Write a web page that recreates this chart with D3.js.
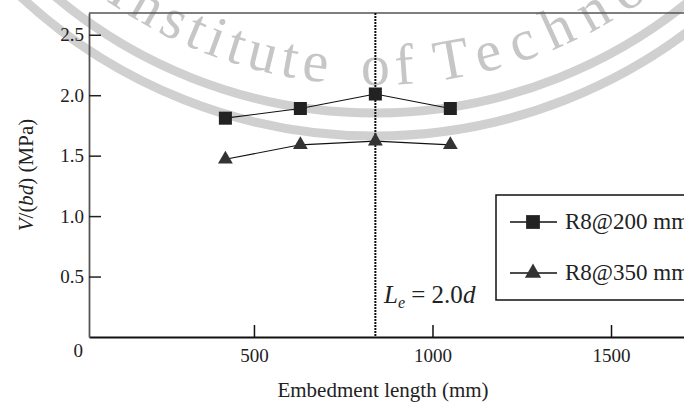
<!DOCTYPE html>
<html>
<head>
<meta charset="utf-8">
<script src="https://cdn.jsdelivr.net/npm/d3@7"></script>
<style>
  body { margin: 0; background: #fff; }
  svg { display: block; }
  text { font-family: "Liberation Serif", "Times New Roman", serif; }
</style>
</head>
<body>
<div id="chart-area"></div>
<script>
// data
var lengths = [420, 630, 840, 1050];
var r8at200 = [1.81, 1.89, 2.01, 1.89];
var r8at350 = [1.47, 1.59, 1.62, 1.59];
var seriesNames = ["R8@200 mm", "R8@350 mm"];
var xTicks = [500, 1000, 1500];
var yTicks = [0, 0.5, 1.0, 1.5, 2.0, 2.5];
var criticalLength = 840;

var W = 684, H = 403;
var svg = d3.select("#chart-area")
  .append("svg")
  .attr("width", W)
  .attr("height", H);

var plotLeft = 89, plotTop = 13, plotBottom = 337;

var x = d3.scaleLinear()
  .domain([38, 1710])
  .range([plotLeft, 686]);

var y = d3.scaleLinear()
  .domain([0, 2.68])
  .range([plotBottom, plotTop]);

// watermark (grey seal arcs + text)
var wm = svg.append("g").attr("class", "watermark");
var cx = 375, cy = -384;
[497, 520].forEach(r => {
  wm.append("circle")
    .attr("cx", cx).attr("cy", cy).attr("r", r)
    .attr("fill", "none")
    .attr("stroke", "#d0d0d0")
    .attr("stroke-width", 9);
});

var rText = 469, a0 = 1.2;
var p = d3.path();
p.arc(cx, cy, rText, Math.PI / 2 + a0, Math.PI / 2 - a0, true);
wm.append("path")
  .attr("id", "wmArc")
  .attr("d", p.toString())
  .attr("fill", "none");

function arcOffset(px) {
  return rText * (Math.asin((px - cx) / rText) + a0);
}

var wmWords = [
  { t: "Institute", at: 332, anchor: "end", ls: 6 },
  { t: "of", at: 391, anchor: "middle", ls: 6 },
  { t: "Technology", at: 437, anchor: "start", ls: 12 }
];
wmWords.forEach(w => {
  wm.append("text")
    .attr("font-size", "58px")
    .attr("letter-spacing", w.ls + "px")
    .attr("fill", "#c6c6c6")
    .append("textPath")
    .attr("href", "#wmArc")
    .attr("startOffset", arcOffset(w.at))
    .attr("text-anchor", w.anchor)
    .text(w.t);
});

// frame top line
svg.append("line")
  .attr("x1", plotLeft).attr("x2", W + 5)
  .attr("y1", plotTop).attr("y2", plotTop)
  .attr("stroke", "#555")
  .attr("stroke-width", 1.6);

// axes
var xAxisCall = d3.axisBottom(x)
  .tickValues(xTicks)
  .tickSizeInner(-12)
  .tickSizeOuter(0)
  .tickPadding(12)
  .tickFormat(d3.format("d"));
var xAxis = svg.append("g")
  .attr("class", "x axis")
  .attr("transform", "translate(0," + plotBottom + ")")
  .call(xAxisCall);
xAxis.select(".domain").attr("stroke", "#111").attr("stroke-width", 2);
xAxis.selectAll(".tick line").attr("stroke", "#111").attr("stroke-width", 1.5);
xAxis.selectAll("text")
  .attr("font-size", "19px")
  .attr("font-family", "Liberation Serif")
  .attr("fill", "#222");

var yAxisCall = d3.axisLeft(y)
  .tickValues(yTicks)
  .tickSizeInner(-12)
  .tickSizeOuter(0)
  .tickPadding(5)
  .tickFormat(d => d === 0 ? "0" : d3.format(".1f")(d));
var yAxis = svg.append("g")
  .attr("class", "y axis")
  .attr("transform", "translate(" + plotLeft + ",0)")
  .call(yAxisCall);
yAxis.select(".domain").attr("stroke", "#555").attr("stroke-width", 1.8);
yAxis.selectAll(".tick line").attr("stroke", "#222").attr("stroke-width", 1.5);
yAxis.selectAll(".tick").filter(d => d === 0).select("line").remove();
yAxis.selectAll("text")
  .attr("font-size", "19px")
  .attr("font-family", "Liberation Serif")
  .attr("fill", "#222");
yAxis.selectAll(".tick").filter(d => d === 0).select("text")
  .attr("dy", "1.0em")
  .attr("x", -6);

// critical length line
svg.append("line")
  .attr("x1", x(criticalLength)).attr("x2", x(criticalLength))
  .attr("y1", plotTop).attr("y2", plotBottom)
  .attr("stroke", "#111")
  .attr("stroke-width", 2)
  .attr("stroke-dasharray", "2,1");

// series
var series = [
  { name: seriesNames[0], values: r8at200, symbol: d3.symbolSquare, size: 170, fill: "#222" },
  { name: seriesNames[1], values: r8at350, symbol: d3.symbolTriangle, size: 95, fill: "#333" }
];

var line = d3.line()
  .x(d => x(d[0]))
  .y(d => y(d[1]));

series.forEach(s => {
  var pts = lengths.map((l, i) => [l, s.values[i]]);
  svg.append("path")
    .attr("d", line(pts))
    .attr("fill", "none")
    .attr("stroke", "#111")
    .attr("stroke-width", 1.2);
  svg.selectAll(null)
    .data(pts)
    .enter()
    .append("path")
    .attr("d", d3.symbol().type(s.symbol).size(s.size))
    .attr("transform", d => "translate(" + x(d[0]) + "," + y(d[1]) + ")")
    .attr("fill", s.fill);
});

// legend
var legend = svg.append("g").attr("class", "legend");
legend.append("rect")
  .attr("x", 496).attr("y", 195)
  .attr("width", 230).attr("height", 105)
  .attr("fill", "#fff")
  .attr("stroke", "#111")
  .attr("stroke-width", 1.5);
series.forEach((s, i) => {
  var ly = 222 + i * 51;
  legend.append("line")
    .attr("x1", 510).attr("x2", 557)
    .attr("y1", ly).attr("y2", ly)
    .attr("stroke", "#111")
    .attr("stroke-width", 1.3);
  legend.append("path")
    .attr("d", d3.symbol().type(s.symbol).size(s.size + 20))
    .attr("transform", "translate(533," + ly + ")")
    .attr("fill", s.fill);
  legend.append("text")
    .attr("x", 565)
    .attr("y", ly + 7)
    .attr("font-size", "23px")
    .attr("fill", "#222")
    .text(s.name);
});

// annotation
var ann = svg.append("text")
  .attr("x", 384)
  .attr("y", 303)
  .attr("font-size", "25px")
  .attr("fill", "#222");
ann.append("tspan").attr("font-style", "italic").text("L");
ann.append("tspan").attr("font-style", "italic").attr("font-size", "16px").attr("dy", 5).text("e");
ann.append("tspan").attr("dy", -5).text(" = 2.0");
ann.append("tspan").attr("font-style", "italic").text("d");

// axis labels
svg.append("text")
  .attr("x", 383)
  .attr("y", 397)
  .attr("font-size", "21px")
  .attr("text-anchor", "middle")
  .attr("fill", "#222")
  .text("Embedment length (mm)");

var yl = svg.append("text")
  .attr("transform", "translate(33,175) rotate(-90)")
  .attr("font-size", "21px")
  .attr("text-anchor", "middle")
  .attr("fill", "#222");
yl.append("tspan").attr("font-style", "italic").text("V");
yl.append("tspan").text("/(");
yl.append("tspan").attr("font-style", "italic").text("bd");
yl.append("tspan").text(") (MPa)");
</script>
</body>
</html>
